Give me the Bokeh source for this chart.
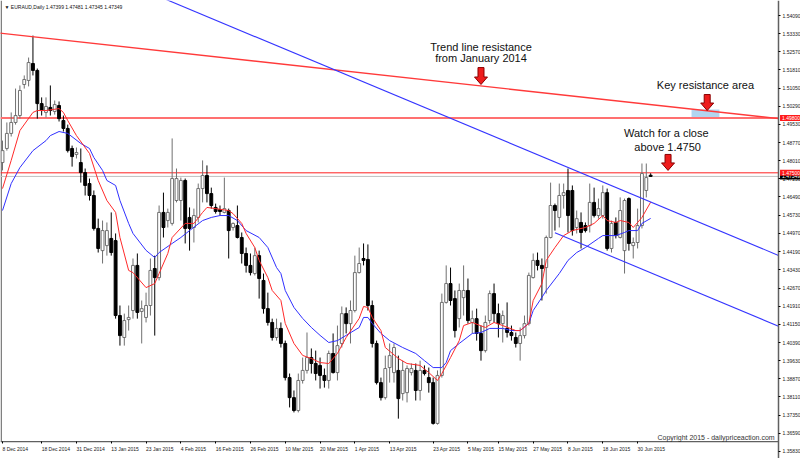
from bokeh.plotting import figure
from bokeh.models import (Range1d, FixedTicker, Label, BoxAnnotation, LinearAxis,
                          ColumnDataSource, PrintfTickFormatter)
from bokeh.embed import file_html
from bokeh.resources import INLINE

# ---------------- data (EURAUD daily) ----------------
opens = [1.4793, 1.4852, 1.4915, 1.4961, 1.4990, 1.5120, 1.5137, 1.5208, 1.5179, 1.5040,
         1.5003, 1.5024, 1.5007, 1.5032, 1.4969, 1.4936, 1.4852, 1.4827, 1.4793, 1.4751,
         1.4705, 1.4655, 1.4517, 1.4424, 1.4445, 1.4475, 1.4466, 1.4152, 1.4060, 1.4135,
         1.4173, 1.4362, 1.4169, 1.4144, 1.4194, 1.4349, 1.4311, 1.4584, 1.4550, 1.4538,
         1.4634, 1.4634, 1.4718, 1.4563, 1.4521, 1.4563, 1.4684, 1.4739, 1.4663, 1.4605,
         1.4596, 1.4584, 1.4592, 1.4521, 1.4529, 1.4479, 1.4412, 1.4362, 1.4328, 1.4403,
         1.4299, 1.4181, 1.4123, 1.4060, 1.4098, 1.4035, 1.3892, 1.3808, 1.3754, 1.3880,
         1.3922, 1.3976, 1.3951, 1.3943, 1.3901, 1.3880, 1.3993, 1.3913, 1.4035, 1.4160,
         1.4118, 1.4173, 1.4332, 1.4391, 1.4387, 1.4194, 1.4035, 1.3871, 1.3808, 1.3934,
         1.3913, 1.3922, 1.3825, 1.3829, 1.3913, 1.3922, 1.3838, 1.3922, 1.3892, 1.3871,
         1.3700, 1.3901, 1.4207, 1.4286, 1.4223, 1.4139, 1.4227, 1.4257, 1.4123, 1.4139,
         1.4077, 1.4005, 1.4131, 1.4244, 1.4160, 1.4118, 1.4098, 1.4081, 1.4060, 1.4035,
         1.4068, 1.4118, 1.4311, 1.4383, 1.4362, 1.4353, 1.4479, 1.4613, 1.4563, 1.4655,
         1.4676, 1.4676, 1.4521, 1.4542, 1.4529, 1.4529, 1.4626, 1.4571, 1.4571, 1.4667,
         1.4433, 1.4542, 1.4479, 1.4424, 1.4642, 1.4445, 1.4458, 1.4529, 1.4676, 1.47399]
highs = [1.4885, 1.4961, 1.5003, 1.5103, 1.5116, 1.5158, 1.5233, 1.5325, 1.5187, 1.5066,
         1.5066, 1.5116, 1.5053, 1.5049, 1.4990, 1.4952, 1.4864, 1.4856, 1.4852, 1.4768,
         1.4726, 1.4676, 1.4558, 1.4550, 1.4542, 1.4584, 1.4496, 1.4194, 1.4160, 1.4194,
         1.4391, 1.4412, 1.4215, 1.4248, 1.4391, 1.4403, 1.4613, 1.4667, 1.4600, 1.4894,
         1.4768, 1.4730, 1.4726, 1.4605, 1.4600, 1.4705, 1.4802, 1.4781, 1.4688, 1.4621,
         1.4613, 1.4730, 1.4600, 1.4542, 1.4613, 1.4500, 1.4437, 1.4412, 1.4437, 1.4424,
         1.4328, 1.4248, 1.4139, 1.4139, 1.4123, 1.4047, 1.3909, 1.3838, 1.3909, 1.3976,
         1.4081, 1.4014, 1.4005, 1.3976, 1.3930, 1.4005, 1.4077, 1.4110, 1.4190, 1.4186,
         1.4215, 1.4403, 1.4437, 1.4454, 1.4450, 1.4215, 1.4047, 1.3892, 1.3984, 1.4035,
         1.4035, 1.3984, 1.3963, 1.3943, 1.3951, 1.3951, 1.3963, 1.3943, 1.3934, 1.3892,
         1.3922, 1.4244, 1.4362, 1.4353, 1.4257, 1.4286, 1.4362, 1.4307, 1.4173, 1.4181,
         1.4110, 1.4152, 1.4257, 1.4286, 1.4202, 1.4173, 1.4207, 1.4110, 1.4081, 1.4102,
         1.4152, 1.4332, 1.4412, 1.4416, 1.4391, 1.4487, 1.4709, 1.4621, 1.4705, 1.4705,
         1.4768, 1.4697, 1.4592, 1.4584, 1.4542, 1.4705, 1.4688, 1.4642, 1.4697, 1.4684,
         1.4550, 1.4563, 1.4647, 1.4642, 1.4647, 1.4479, 1.4600, 1.4789, 1.4789, 1.47481]
lows = [1.4760, 1.4843, 1.4902, 1.4952, 1.4977, 1.5103, 1.5112, 1.5158, 1.4977, 1.4990,
        1.4982, 1.4990, 1.4994, 1.4965, 1.4923, 1.4835, 1.4776, 1.4810, 1.4709, 1.4655,
        1.4634, 1.4508, 1.4416, 1.4370, 1.4403, 1.4403, 1.4139, 1.4026, 1.4026, 1.4089,
        1.4139, 1.4139, 1.4035, 1.4123, 1.4152, 1.4068, 1.4299, 1.4479, 1.4521, 1.4529,
        1.4626, 1.4550, 1.4454, 1.4424, 1.4458, 1.4542, 1.4626, 1.4626, 1.4600, 1.4579,
        1.4571, 1.4580, 1.4391, 1.4508, 1.4475, 1.4370, 1.4332, 1.4320, 1.4320, 1.4223,
        1.4160, 1.4110, 1.4047, 1.4047, 1.4018, 1.3880, 1.3767, 1.3746, 1.3746, 1.3867,
        1.3909, 1.3909, 1.3880, 1.3846, 1.3850, 1.3846, 1.3909, 1.3880, 1.4018, 1.4077,
        1.4035, 1.4165, 1.4328, 1.4362, 1.4173, 1.4018, 1.3863, 1.3796, 1.3800, 1.3871,
        1.3871, 1.3720, 1.3796, 1.3788, 1.3901, 1.3796, 1.3796, 1.3901, 1.3829, 1.3695,
        1.3695, 1.3892, 1.4202, 1.4194, 1.4060, 1.4102, 1.4152, 1.4118, 1.4077, 1.4047,
        1.3963, 1.3997, 1.4118, 1.4123, 1.4060, 1.4039, 1.4060, 1.4047, 1.4018, 1.3963,
        1.4056, 1.4110, 1.4307, 1.4341, 1.4215, 1.4244, 1.4475, 1.4508, 1.4521, 1.4600,
        1.4500, 1.4487, 1.4496, 1.4433, 1.4500, 1.4500, 1.4563, 1.4558, 1.4558, 1.4424,
        1.4416, 1.4475, 1.4475, 1.4328, 1.4424, 1.4391, 1.4433, 1.4517, 1.4647, 1.47345]
closes = [1.4843, 1.4915, 1.4961, 1.4990, 1.5095, 1.5141, 1.5212, 1.5179, 1.5040, 1.5011,
          1.5028, 1.5011, 1.5036, 1.4977, 1.4936, 1.4843, 1.4818, 1.4835, 1.4751, 1.4697,
          1.4655, 1.4517, 1.4433, 1.4508, 1.4508, 1.4416, 1.4152, 1.4068, 1.4131, 1.4144,
          1.4362, 1.4165, 1.4181, 1.4194, 1.4341, 1.4311, 1.4584, 1.4521, 1.4584, 1.4726,
          1.4726, 1.4718, 1.4517, 1.4517, 1.4571, 1.4684, 1.4739, 1.4663, 1.4613, 1.4588,
          1.4588, 1.4600, 1.4508, 1.4538, 1.4479, 1.4412, 1.4362, 1.4332, 1.4403, 1.4307,
          1.4181, 1.4123, 1.4060, 1.4098, 1.4035, 1.3892, 1.3808, 1.3754, 1.3880, 1.3922,
          1.3976, 1.3951, 1.3909, 1.3901, 1.3880, 1.3993, 1.3913, 1.4026, 1.4160, 1.4118,
          1.4173, 1.4332, 1.4370, 1.4383, 1.4194, 1.4035, 1.3871, 1.3808, 1.3930, 1.3984,
          1.4018, 1.3804, 1.3922, 1.3930, 1.3930, 1.3838, 1.3922, 1.3909, 1.3871, 1.3700,
          1.3901, 1.4207, 1.4286, 1.4215, 1.4089, 1.4257, 1.4257, 1.4131, 1.4139, 1.4077,
          1.4005, 1.4123, 1.4244, 1.4160, 1.4118, 1.4152, 1.4081, 1.4068, 1.4035, 1.4068,
          1.4118, 1.4320, 1.4383, 1.4362, 1.4349, 1.4479, 1.4613, 1.4592, 1.4655, 1.4667,
          1.4571, 1.4508, 1.4558, 1.4500, 1.4508, 1.4626, 1.4571, 1.4600, 1.4667, 1.4433,
          1.4538, 1.4487, 1.4592, 1.4634, 1.4454, 1.4458, 1.4529, 1.4747, 1.4730, 1.47349]

# moving averages (bar index, value)
ma_fast_x = [0, 2, 4, 7, 8, 10, 13, 14, 15, 17, 20, 22, 24, 26, 27, 29, 30, 33, 35, 36,
             38, 39, 42, 44, 46, 47, 49, 52, 53, 55, 56, 58, 59, 61, 62, 64, 65, 67, 69, 71,
             73, 75, 77, 79, 82, 83, 84, 85, 87, 88, 91, 93, 96, 98, 100, 101, 103, 105, 106, 108,
             111, 113, 115, 118, 119, 121, 122, 124, 125, 127, 129, 131, 134, 136, 138, 139, 141, 142, 144, 145,
             147, 149]
ma_fast_y = [1.4684, 1.4802, 1.4927, 1.5003, 1.5011, 1.5011, 1.5019, 1.5003, 1.4969, 1.4906,
             1.4831, 1.4718, 1.4634, 1.4584, 1.4479, 1.4341, 1.4332, 1.4269, 1.4286, 1.4328,
             1.4412, 1.4479, 1.4538, 1.4538, 1.4584, 1.4605, 1.4600, 1.4592, 1.4579, 1.4538,
             1.4496, 1.4437, 1.4383, 1.4311, 1.4257, 1.4215, 1.4119, 1.4035, 1.3985, 1.3972,
             1.3955, 1.3951, 1.3993, 1.4060, 1.4140, 1.4190, 1.4186, 1.4144, 1.4089, 1.4018,
             1.3972, 1.3951, 1.3943, 1.3913, 1.3880, 1.3909, 1.3976, 1.4047, 1.4110, 1.4123,
             1.4102, 1.4123, 1.4110, 1.4089, 1.4089, 1.4119, 1.4215, 1.4286, 1.4383, 1.4437,
             1.4487, 1.4508, 1.4521, 1.4538, 1.4571, 1.4550, 1.4542, 1.4550, 1.4542, 1.4521,
             1.4563, 1.4627]
ma_slow_x = [0, 2, 4, 7, 10, 11, 13, 15, 18, 20, 21, 23, 24, 26, 27, 29, 30, 33, 35, 36,
             39, 41, 43, 46, 48, 50, 52, 54, 56, 59, 61, 63, 64, 65, 67, 69, 71, 73, 75, 77,
             79, 82, 83, 84, 85, 87, 89, 92, 95, 97, 99, 101, 102, 103, 105, 108, 110, 112, 115, 117,
             119, 121, 122, 124, 125, 128, 130, 132, 134, 137, 138, 141, 143, 144, 146, 147, 149]
ma_slow_y = [1.4592, 1.4705, 1.4772, 1.4843, 1.4885, 1.4906, 1.4923, 1.4915, 1.4873, 1.4852,
             1.4814, 1.4760, 1.4718, 1.4697, 1.4634, 1.4538, 1.4496, 1.4425, 1.4395, 1.4416,
             1.4454, 1.4479, 1.4508, 1.4550, 1.4563, 1.4571, 1.4571, 1.4550, 1.4508, 1.4479,
             1.4437, 1.4353, 1.4328, 1.4257, 1.4186, 1.4140, 1.4102, 1.4069, 1.4039, 1.4047,
             1.4069, 1.4102, 1.4144, 1.4144, 1.4119, 1.4077, 1.4047, 1.4018, 1.3993, 1.3963,
             1.3934, 1.3934, 1.3955, 1.4005, 1.4035, 1.4077, 1.4081, 1.4098, 1.4098, 1.4089,
             1.4089, 1.4119, 1.4173, 1.4228, 1.4257, 1.4328, 1.4383, 1.4416, 1.4437, 1.4475,
             1.4487, 1.4487, 1.4500, 1.4508, 1.4508, 1.4538, 1.4559]

# drawn trend lines (bar index, price), ending at the price scale
red_trend_x = [-1, 178.4]
red_trend_y = [1.5336, 1.4977]
blue_upper_x = [37, 178.4]
blue_upper_y = [1.5481, 1.4404]
blue_lower_x = [127, 178.4]
blue_lower_y = [1.4499, 1.4107]

level_key = 1.4980
level_watch = 1.4750
last_price = 1.47349

date_idx = [0, 9, 17, 25, 33, 41, 49, 57, 65, 73, 81, 89, 99, 107, 114, 122, 130, 138, 146]
date_labels = ["8 Dec 2014", "18 Dec 2014", "31 Dec 2014", "13 Jan 2015", "23 Jan 2015",
               "4 Feb 2015", "16 Feb 2015", "26 Feb 2015", "10 Mar 2015", "20 Mar 2015",
               "1 Apr 2015", "13 Apr 2015", "23 Apr 2015", "5 May 2015", "15 May 2015",
               "27 May 2015", "8 Jun 2015", "18 Jun 2015", "30 Jun 2015"]
price_ticks = [1.54090, 1.53330, 1.52570, 1.51810, 1.51050, 1.50290, 1.49530, 1.48770,
               1.48010, 1.47250, 1.46490, 1.45730, 1.44970, 1.44190, 1.43430, 1.42670,
               1.41910, 1.41150, 1.40390, 1.39630, 1.38870, 1.38110, 1.37350, 1.36590,
               1.35830]

# annotation anchors (bar index, price)
arrow_x = [110, 162, 153]
arrow_top = [1.5191, 1.5078, 1.4827]
arrow_tip = [1.5120, 1.5011, 1.4760]
zone_left, zone_right, zone_bottom, zone_top = 158.4, 164.8, 1.4982, 1.5015

# ---------------- figure (whole 800x458 canvas is the frame) ----------------
FW, FH = 800, 458
X0, XA, X2 = -0.46, 178.4, 183.45     # left edge, price-scale line, right edge (bar units)
Y0, YB, Y1 = 1.3553, 1.3624, 1.5472   # bottom edge, time-scale line, top edge

p = figure(frame_width=FW, frame_height=FH, x_range=Range1d(X0, X2), y_range=Range1d(Y0, Y1),
           x_axis_location=None, y_axis_location=None, output_backend="svg",
           toolbar_location=None,
           min_border_left=0, min_border_top=0, min_border_bottom=0, min_border_right=0)
p.grid.visible = False
p.background_fill_color = "white"
p.border_fill_color = "white"
p.outline_line_color = None

ax_font = "Liberation Sans"
yax = LinearAxis(fixed_location=XA, ticker=FixedTicker(ticks=price_ticks),
                 formatter=PrintfTickFormatter(format="%.5f"))
yax.major_label_text_font_size = "5px"
yax.major_label_text_font = ax_font
yax.major_label_text_color = "#202020"
yax.major_tick_out = 2
yax.major_tick_in = 0
yax.minor_tick_out = 0
yax.minor_tick_in = 0
yax.major_label_standoff = 2
yax.axis_line_color = "#606060"
yax.axis_line_width = 1.5
p.add_layout(yax, "right")

xax = LinearAxis(fixed_location=YB, ticker=FixedTicker(ticks=date_idx))
xax.major_label_overrides = {i: s for i, s in zip(date_idx, date_labels)}
xax.major_label_orientation = -0.0001
xax.major_label_text_font_size = "5px"
xax.major_label_text_font = ax_font
xax.major_label_text_color = "#202020"
xax.major_tick_out = 2
xax.major_tick_in = 0
xax.minor_tick_out = 0
xax.minor_tick_in = 0
xax.major_label_standoff = 5
xax.axis_line_color = None
p.add_layout(xax, "below")

ypx = (Y1 - Y0) / FH
xpx = (X2 - X0) / FW
# chart border (left and bottom), stopping at the scales
p.line([X0 + 0.7 * xpx, X0 + 0.7 * xpx], [YB, Y1], line_color="#606060", line_width=1.2)
p.line([X0, XA], [YB, YB], line_color="#606060", line_width=1.2)

# horizontal levels (to the price scale)
p.line([X0, XA], [level_key, level_key], line_color="#ff7070", line_width=2)
p.line([X0, XA], [last_price, last_price], line_color="#c0c0c0", line_width=1)
p.line([X0, XA], [level_watch, level_watch], line_color="#ff2020", line_width=1)
p.add_layout(BoxAnnotation(left=zone_left, right=zone_right, bottom=zone_bottom, top=zone_top,
                           fill_color="#a9d1ee", fill_alpha=0.9, line_alpha=0, level="underlay"))

# candles
n = len(closes)
idx = list(range(n))
bull = [c >= o for o, c in zip(opens, closes)]


def sub(mask):
    ii = [i for i in idx if mask[i]]
    return ColumnDataSource(dict(
        x=ii,
        hi=[highs[i] for i in ii], lo=[lows[i] for i in ii],
        top=[max(opens[i], closes[i]) for i in ii],
        bot=[min(opens[i], closes[i]) for i in ii]))


src_up = sub(bull)
src_dn = sub([not b for b in bull])
p.segment(x0="x", y0="lo", x1="x", y1="hi", source=src_up, line_color="#707070", line_width=1)
p.segment(x0="x", y0="lo", x1="x", y1="hi", source=src_dn, line_color="#000000", line_width=1)
p.vbar(x="x", width=0.66, top="top", bottom="bot", source=src_up,
       fill_color="white", line_color="#707070", line_width=1)
p.vbar(x="x", width=0.66, top="top", bottom="bot", source=src_dn,
       fill_color="black", line_color="black", line_width=1)

# moving averages
p.line(ma_slow_x, ma_slow_y, line_color="#3030ff", line_width=1)
p.line(ma_fast_x, ma_fast_y, line_color="#ff2a2a", line_width=1)

# trend lines
p.line(red_trend_x, red_trend_y, line_color="#ff3a3a", line_width=1.4)
p.line(blue_upper_x, blue_upper_y, line_color="#3535ff", line_width=1.1)
p.line(blue_lower_x, blue_lower_y, line_color="#3535ff", line_width=1.1)

# block arrows
axs, ays = [], []
for ax_, top_, tip_ in zip(arrow_x, arrow_top, arrow_tip):
    base = tip_ + 7.5 * ypx
    sw, hw = 3 * xpx, 6.5 * xpx
    axs.append([ax_ - sw, ax_ + sw, ax_ + sw, ax_ + hw, ax_, ax_ - hw, ax_ - sw])
    ays.append([top_, top_, base, base, tip_, base, base])
p.patches(axs, ays, fill_color="#ee1c1c", line_color="#8a0000", line_width=1)

# texts
txt_font = "Liberation Sans"
for t, x, y in [("Trend line resistance", 110, 1.5279), ("from January 2014", 110, 1.5229),
                ("Key resistance area", 161.6, 1.5116),
                ("Watch for a close", 152.6, 1.4915), ("above 1.4750", 152.9, 1.4860)]:
    p.add_layout(Label(x=x, y=y, text=t, text_font=txt_font, text_font_size="11px",
                       text_align="center", text_baseline="middle", text_color="#111111"))

p.add_layout(Label(x=177.5, y=1.3641, text="Copyright 2015 - dailypriceaction.com",
                   text_font=txt_font, text_font_size="7px", text_align="right",
                   text_baseline="middle", text_color="#333333"))
p.add_layout(Label(x=4, y=FH - 6, x_units="screen", y_units="screen",
                   text="\u25BC EURAUD,Daily  1.47399 1.47481 1.47345 1.47349",
                   text_font=ax_font, text_font_size="5px", text_baseline="middle",
                   text_color="#111111"))

# price tags on the scale
for val, txt, col in [(last_price, "1.47349", "#000000"), (level_watch, "1.47500", "#ff1a1a"),
                      (level_key, "1.49800", "#ff1a1a")]:
    p.add_layout(Label(x=XA + 1.5 * xpx, y=val, text=txt, text_font=ax_font,
                       text_font_size="5px", text_color="white", text_baseline="middle",
                       background_fill_color=col, padding=(2, 1)))

open("out.html", "w").write(file_html(p, INLINE))
